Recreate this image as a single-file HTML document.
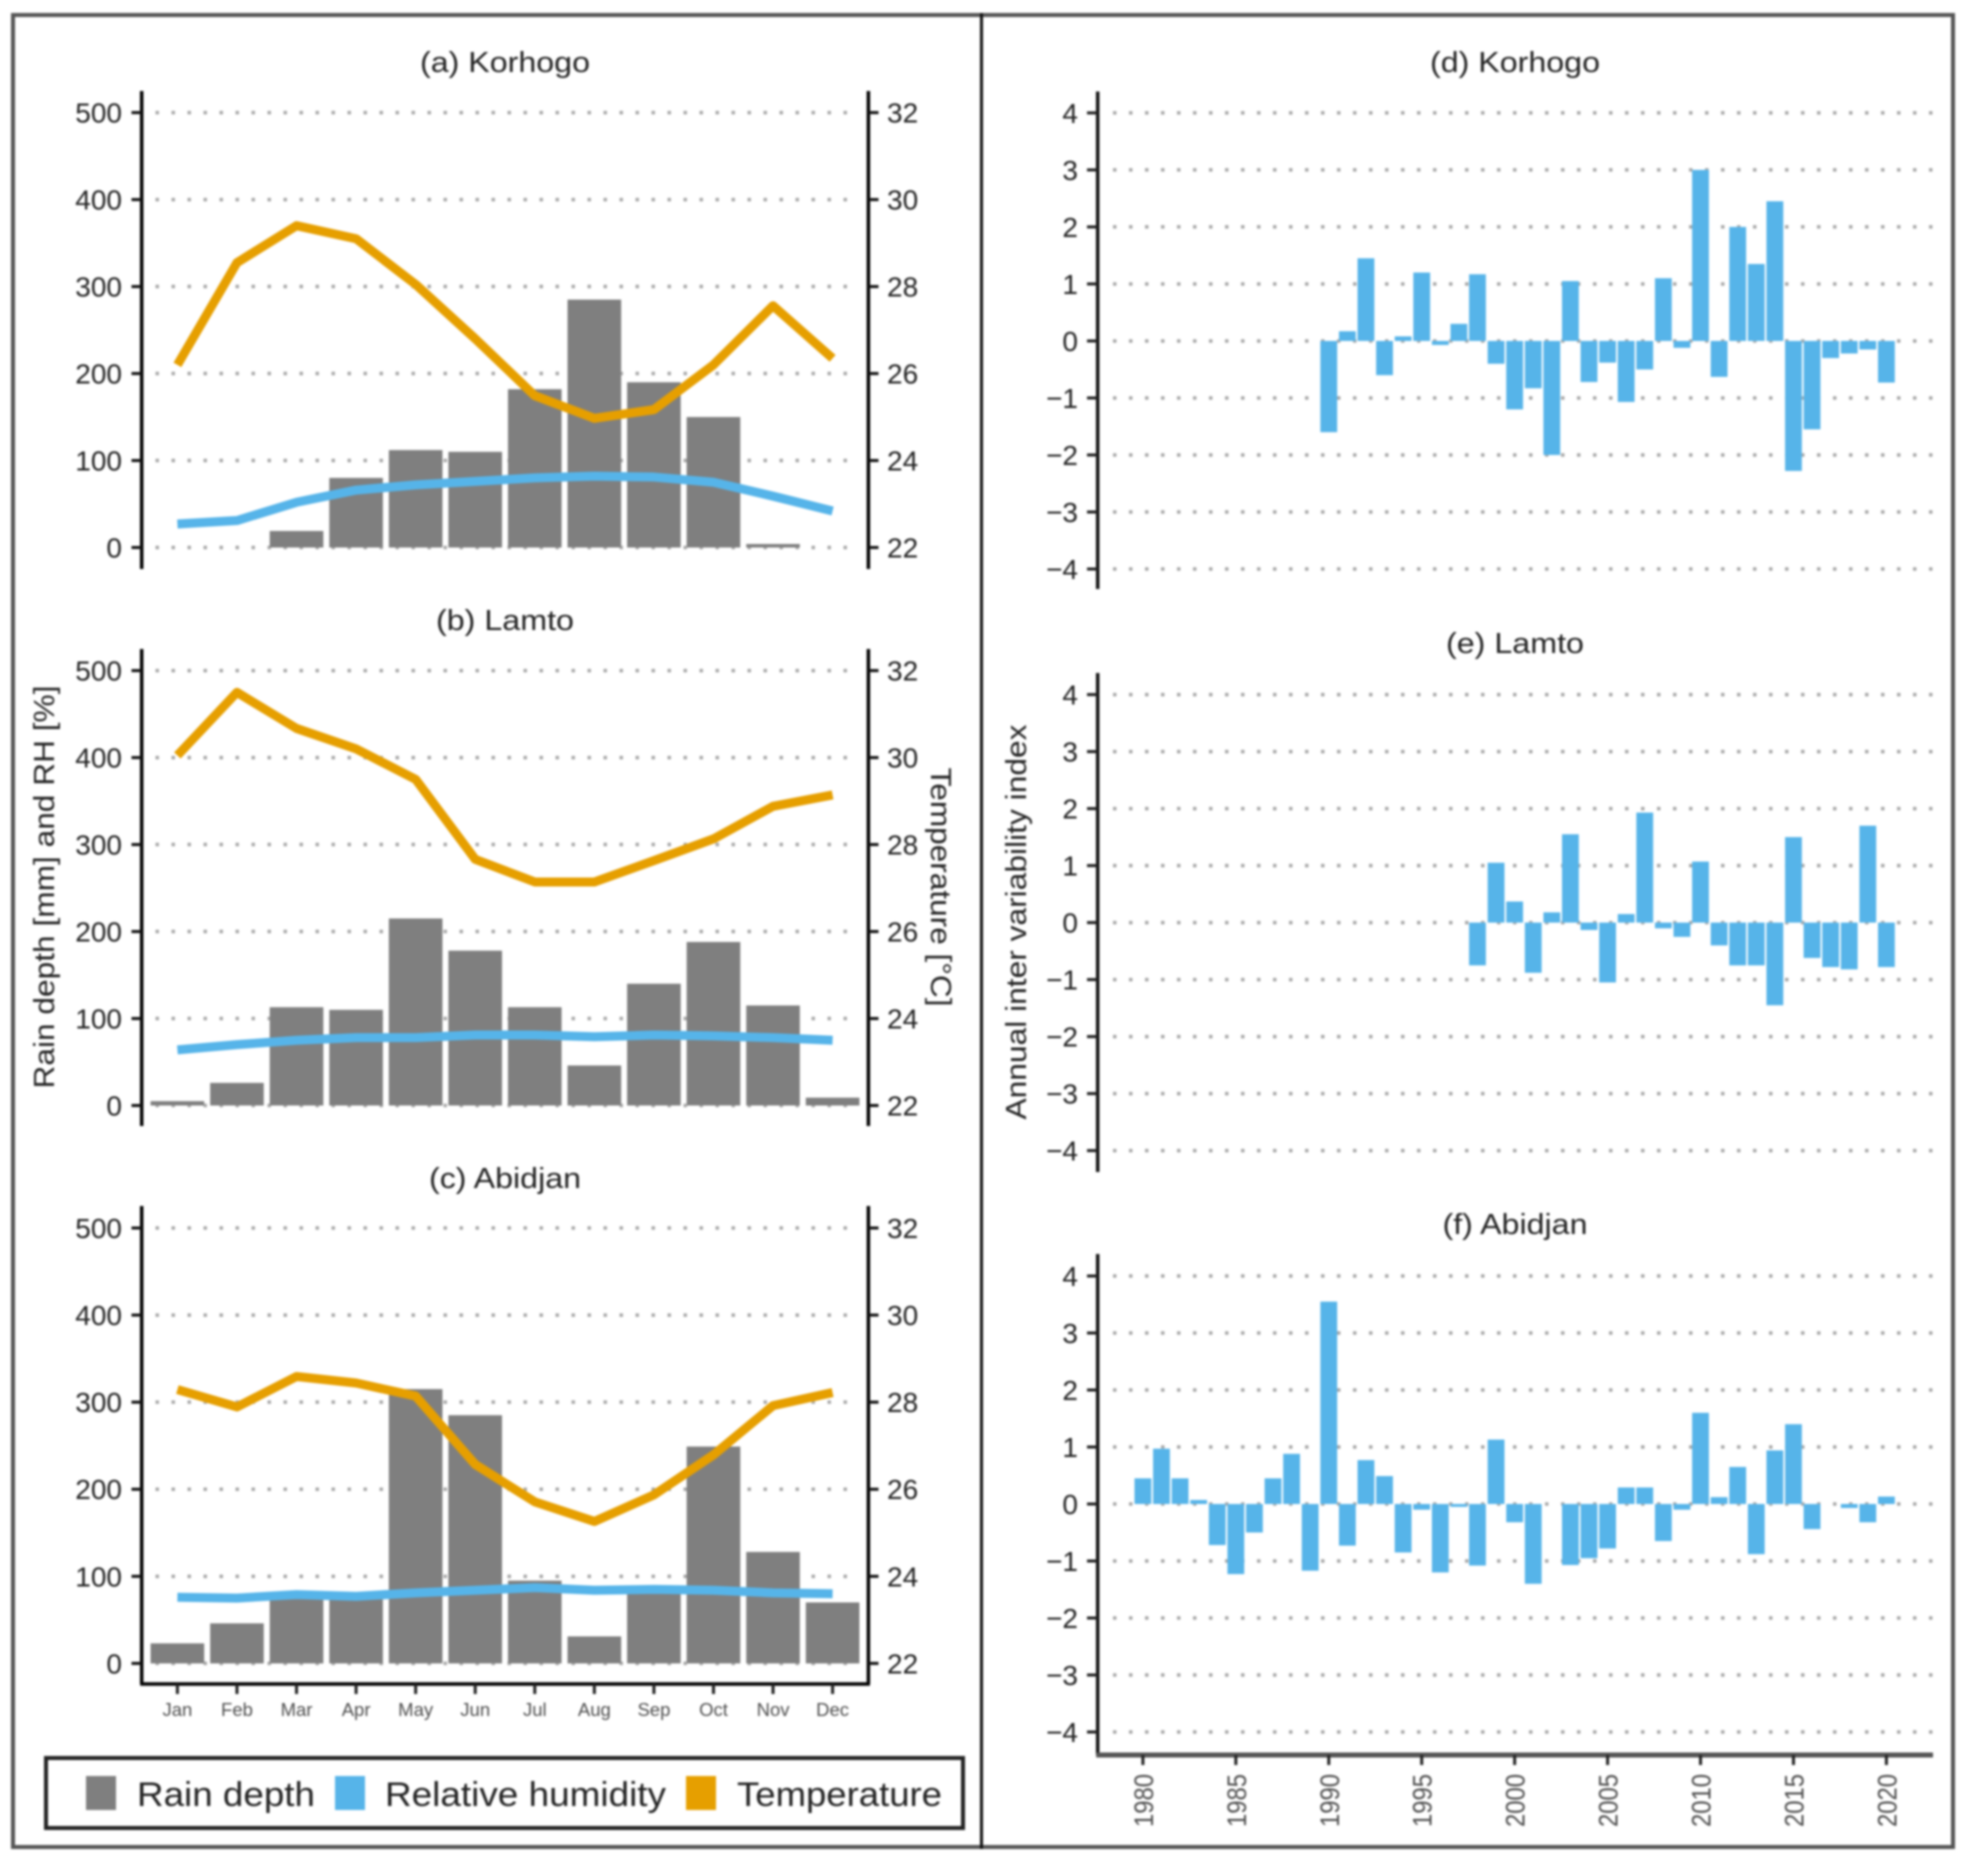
<!DOCTYPE html>
<html lang="en">
<head>
<meta charset="utf-8">
<title>Climate of Korhogo, Lamto and Abidjan</title>
<style>
html,body{margin:0;padding:0;background:#fff;}
svg{display:block;filter:blur(1px);font-family:"Liberation Sans",sans-serif;}
</style>
</head>
<body>
<svg id="chart" xmlns="http://www.w3.org/2000/svg" width="1966" height="1864" viewBox="0 0 1966 1864">
  <rect x="0" y="0" width="1966" height="1864" fill="#ffffff"/>
  <rect x="13" y="15" width="1940" height="1832" fill="none" stroke="#555555" stroke-width="4"/>
  <line x1="981.5" y1="13" x2="981.5" y2="1849" stroke="#111111" stroke-width="3"/>

  <g id="plots"></g>

  <g font-size="29" fill="#222222" text-anchor="middle">
    <text x="505" y="72" textLength="170" lengthAdjust="spacingAndGlyphs">(a) Korhogo</text>
    <text x="505" y="630" textLength="138" lengthAdjust="spacingAndGlyphs">(b) Lamto</text>
    <text x="505" y="1188" textLength="152" lengthAdjust="spacingAndGlyphs">(c) Abidjan</text>
    <text x="1515" y="72" textLength="170" lengthAdjust="spacingAndGlyphs">(d) Korhogo</text>
    <text x="1515" y="653" textLength="138" lengthAdjust="spacingAndGlyphs">(e) Lamto</text>
    <text x="1515" y="1234" textLength="145" lengthAdjust="spacingAndGlyphs">(f) Abidjan</text>
  </g>

  <g font-size="29" fill="#222222" text-anchor="middle">
    <text transform="translate(54,887) rotate(-90)" textLength="403" lengthAdjust="spacingAndGlyphs">Rain depth [mm] and RH [%]</text>
    <text transform="translate(931,887) rotate(90)" textLength="239" lengthAdjust="spacingAndGlyphs">Temperature [°C]</text>
    <text transform="translate(1026,922) rotate(-90)" textLength="395" lengthAdjust="spacingAndGlyphs">Annual inter variability index</text>
  </g>

  <g>
    <rect x="46" y="1758" width="917" height="70" fill="#ffffff" stroke="#222222" stroke-width="4"/>
    <rect x="86" y="1776" width="30" height="34" fill="#7f7f7f"/>
    <text x="137" y="1806" font-size="34" fill="#222222" textLength="178" lengthAdjust="spacingAndGlyphs">Rain depth</text>
    <rect x="335" y="1776" width="30" height="34" fill="#56B4E9"/>
    <text x="385" y="1806" font-size="34" fill="#222222" textLength="281" lengthAdjust="spacingAndGlyphs">Relative humidity</text>
    <rect x="686" y="1776" width="30" height="34" fill="#E69F00"/>
    <text x="737" y="1806" font-size="34" fill="#222222" textLength="205" lengthAdjust="spacingAndGlyphs">Temperature</text>
  </g>
</svg>

<script>
const months = ["Jan","Feb","Mar","Apr","May","Jun","Jul","Aug","Sep","Oct","Nov","Dec"];
const rainTicks = [0,100,200,300,400,500];
const tempTicks = [22,24,26,28,30,32];
const indexTicks = [-4,-3,-2,-1,0,1,2,3,4];
const yearTicks = [1980,1985,1990,1995,2000,2005,2010,2015,2020];
const years = [1980,1981,1982,1983,1984,1985,1986,1987,1988,1989,1990,1991,1992,1993,1994,1995,1996,1997,1998,1999,2000,2001,2002,2003,2004,2005,2006,2007,2008,2009,2010,2011,2012,2013,2014,2015,2016,2017,2018,2019,2020];

const rainKorhogo = [0,0,19,80,112,110,182,285,190,150,4,0];
const humidityKorhogo = [27,31,52,66,72,76,80,82,81,75,59,42];
const temperatureKorhogo = [26.2,28.55,29.4,29.1,28.05,26.8,25.49,24.97,25.17,26.2,27.56,26.35];

const rainLamto = [5,26,113,110,215,178,113,46,140,188,115,9];
const humidityLamto = [64,70,75,78,78,81,81,79,81,80,78,75];
const temperatureLamto = [30.05,31.5,30.67,30.2,29.5,27.66,27.14,27.14,27.63,28.13,28.88,29.14];

const rainAbidjan = [23,46,75,75,315,285,95,31,82,249,128,70];
const humidityAbidjan = [76,75,79,77,81,84,87,84,85,84,81,80];
const temperatureAbidjan = [28.29,27.89,28.59,28.44,28.14,26.57,25.71,25.26,25.87,26.79,27.92,28.22];

const indexKorhogo = [null,null,null,null,null,null,null,null,null,null,-1.6,0.17,1.45,-0.6,0.08,1.2,-0.07,0.3,1.17,-0.4,-1.2,-0.83,-2.0,1.05,-0.72,-0.38,-1.07,-0.5,1.1,-0.12,3.0,-0.63,2.0,1.35,2.45,-2.28,-1.55,-0.3,-0.22,-0.15,-0.73];
const indexLamto = [null,null,null,null,null,null,null,null,null,null,null,null,null,null,null,null,null,null,-0.75,1.05,0.37,-0.88,0.18,1.55,-0.13,-1.05,0.15,1.93,-0.1,-0.25,1.07,-0.4,-0.75,-0.75,-1.45,1.5,-0.62,-0.78,-0.82,1.7,-0.78];
const indexAbidjan = [0.45,0.97,0.45,0.07,-0.72,-1.23,-0.5,0.45,0.88,-1.17,3.55,-0.73,0.77,0.49,-0.85,-0.1,-1.2,-0.05,-1.08,1.13,-0.32,-1.4,null,-1.07,-0.95,-0.78,0.29,0.29,-0.65,-0.1,1.6,0.12,0.65,-0.88,0.94,1.4,-0.44,null,-0.07,-0.32,0.13];

const NS = "http://www.w3.org/2000/svg";
const root = document.getElementById("plots");

function make(parent, tag, attrs, text) {
  const el = document.createElementNS(NS, tag);
  for (const k in attrs) el.setAttribute(k, attrs[k]);
  if (text !== undefined) el.textContent = text;
  parent.appendChild(el);
  return el;
}

function fmt(v) { return v < 0 ? "\u2212" + Math.abs(v) : String(v); }

function climatePanel(key, yZero, yTop, axisTop, axisBottom, rain, humidity, temperature, showMonths) {
  const xLeft = 141.7, xRight = 868.4;
  const xMonth = i => 177.4 + i * (832.6 - 177.4) / (months.length - 1);
  const yRain = v => yZero + (yTop - yZero) * v / 500;
  const yTemp = v => yZero + (yTop - yZero) * (v - 22) / 10;
  const barW = 53.6;

  const g = make(root, "g", {});
  
  

  rainTicks.forEach(t => {
    const line = make(g, "line", {x1: 155.5, x2: 858, y1: yRain(t), y2: yRain(t), stroke: "#a8a8a8", "stroke-width": 3.5, "stroke-dasharray": "3.5 12.5"});
    
    
  });

  rain.forEach((v, i) => {
    const bar = make(g, "rect", {x: xMonth(i) - barW / 2, y: yRain(v), width: barW, height: yZero - yRain(v), fill: "#7f7f7f"});
    
    
  });

  const humLine = make(g, "polyline", {points: humidity.map((v, i) => xMonth(i) + "," + yRain(v)).join(" "), fill: "none", stroke: "#56B4E9", "stroke-width": 9, "stroke-linejoin": "round"});
  
  

  const tempLine = make(g, "polyline", {points: temperature.map((v, i) => xMonth(i) + "," + yTemp(v)).join(" "), fill: "none", stroke: "#E69F00", "stroke-width": 9, "stroke-linejoin": "round"});
  
  

  const leftAxis = make(g, "line", {x1: xLeft, x2: xLeft, y1: axisTop, y2: axisBottom, stroke: "#000", "stroke-width": 3.5});
  
  

  const rightAxis = make(g, "line", {x1: xRight, x2: xRight, y1: axisTop, y2: axisBottom, stroke: "#000", "stroke-width": 3.5});
  
  

  rainTicks.forEach(t => {
    const tick = make(g, "line", {x1: 131.5, x2: xLeft, y1: yRain(t), y2: yRain(t), stroke: "#111", "stroke-width": 3});
    
    
    const label = make(g, "text", {x: 122, y: yRain(t) + 10, "font-size": 28, "text-anchor": "end", fill: "#222"}, String(t));
    
    
  });

  tempTicks.forEach(t => {
    const tick = make(g, "line", {x1: xRight, x2: 878.5, y1: yTemp(t), y2: yTemp(t), stroke: "#111", "stroke-width": 3});
    
    
    const label = make(g, "text", {x: 887, y: yTemp(t) + 10, "font-size": 28, fill: "#222"}, String(t));
    
    
  });

  if (showMonths) {
    const bottomAxis = make(g, "line", {x1: xLeft - 1.5, x2: xRight + 1.5, y1: axisBottom, y2: axisBottom, stroke: "#000", "stroke-width": 3.5});
    
    
    months.forEach((m, i) => {
      const tick = make(g, "line", {x1: xMonth(i), x2: xMonth(i), y1: axisBottom, y2: axisBottom + 10, stroke: "#222", "stroke-width": 3});
      
      
      const label = make(g, "text", {x: xMonth(i), y: 1716, "font-size": 18.5, "text-anchor": "middle", fill: "#4d4d4d"}, m);
      
      
    });
  }
}

function indexPanel(key, yFour, yMinusFour, axisTop, axisBottom, values, showYears) {
  const xAxis = 1097.7, xEnd = 1933;
  const xYear = y => 1142.9 + (y - 1980) * (1886.4 - 1142.9) / 40;
  const yVal = v => yFour + (yMinusFour - yFour) * (4 - v) / 8;
  const barW = 16.8;

  const g = make(root, "g", {});
  
  

  indexTicks.forEach(t => {
    const line = make(g, "line", {x1: 1113, x2: xEnd, y1: yVal(t), y2: yVal(t), stroke: "#a8a8a8", "stroke-width": 3.5, "stroke-dasharray": "3.5 12.5"});
    
    
  });

  values.forEach((v, i) => {
    if (v === null) return;
    const top = Math.min(yVal(v), yVal(0));
    const bar = make(g, "rect", {x: xYear(years[i]) - barW / 2, y: top, width: barW, height: Math.abs(yVal(v) - yVal(0)), fill: "#56B4E9"});
    
    
  });

  const axis = make(g, "line", {x1: xAxis, x2: xAxis, y1: axisTop, y2: axisBottom, stroke: "#111", "stroke-width": 3.5});
  
  

  indexTicks.forEach(t => {
    const tick = make(g, "line", {x1: 1087, x2: xAxis, y1: yVal(t), y2: yVal(t), stroke: "#222", "stroke-width": 3});
    
    
    const label = make(g, "text", {x: 1078, y: yVal(t) + 10, "font-size": 28, "text-anchor": "end", fill: "#222"}, fmt(t));
    
    
  });

  if (showYears) {
    const bottomAxis = make(g, "line", {x1: xAxis - 1.5, x2: xEnd, y1: axisBottom, y2: axisBottom, stroke: "#555", "stroke-width": 5});
    
    
    yearTicks.forEach(y => {
      const tick = make(g, "line", {x1: xYear(y), x2: xYear(y), y1: axisBottom, y2: axisBottom + 10, stroke: "#222", "stroke-width": 3});
      
      
      const label = make(g, "text", {transform: "translate(" + (xYear(y) + 10) + ",1774) rotate(-90)", "font-size": 27, "text-anchor": "end", fill: "#4d4d4d", textLength: 53, lengthAdjust: "spacingAndGlyphs"}, String(y));
      
      
    });
  }
}

climatePanel("korhogo", 547.5, 112.6, 91, 569, rainKorhogo, humidityKorhogo, temperatureKorhogo, false);
climatePanel("lamto", 1105.5, 670.6, 649, 1126, rainLamto, humidityLamto, temperatureLamto, false);
climatePanel("abidjan", 1663.4, 1228, 1206, 1684, rainAbidjan, humidityAbidjan, temperatureAbidjan, true);

indexPanel("korhogo", 112.9, 569, 91.5, 589, indexKorhogo, false);
indexPanel("lamto", 694.6, 1150.6, 673, 1172, indexLamto, false);
indexPanel("abidjan", 1276, 1732, 1254, 1755, indexAbidjan, true);
</script>
</body>
</html>
